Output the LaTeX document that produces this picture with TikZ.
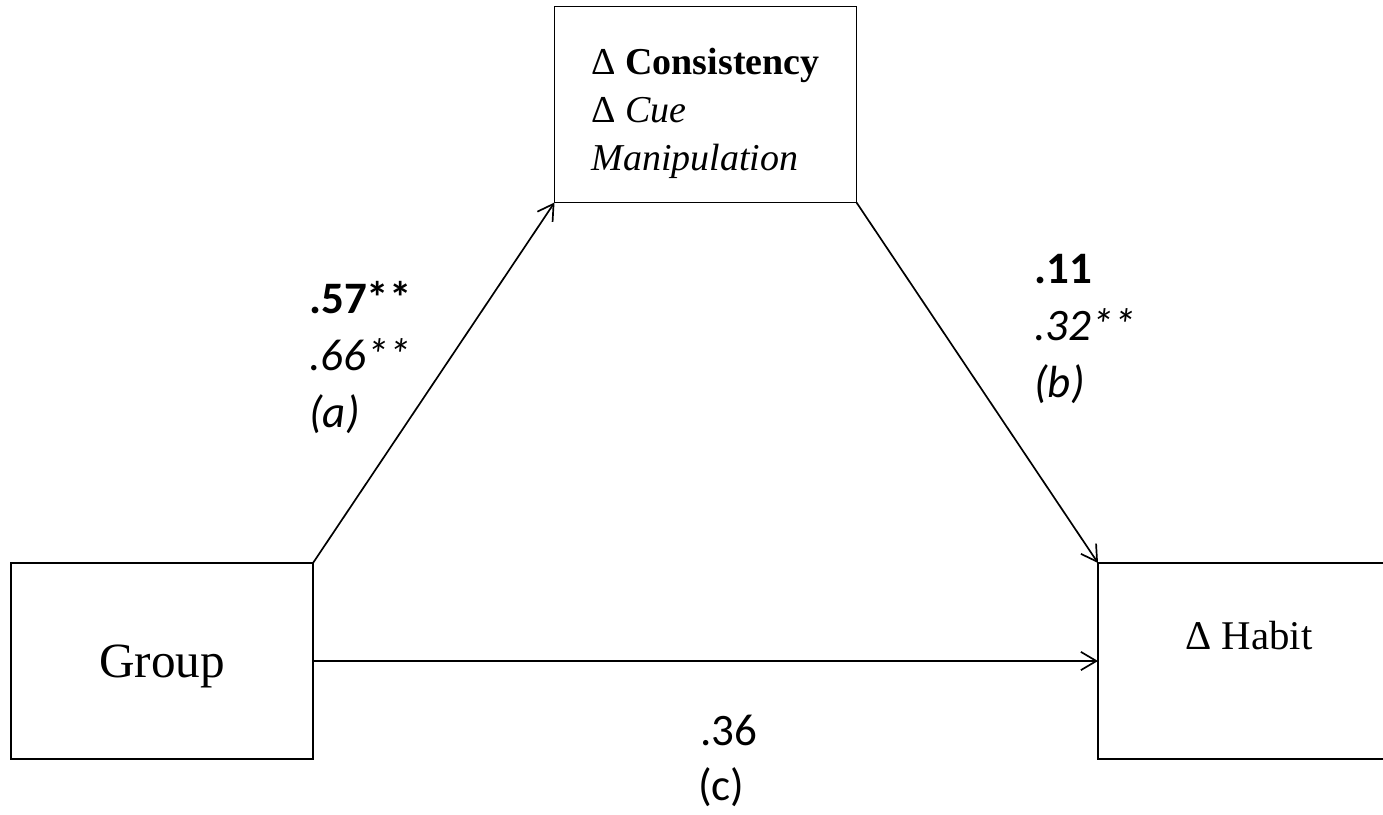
\documentclass[tikz,border=0pt]{standalone}
\usepackage{fontspec}
\setmainfont{Liberation Serif}
\newfontfamily\calib{Carlito}
\usetikzlibrary{arrows.meta}

\begin{document}
\begin{tikzpicture}[x=0.025cm,y=-0.025cm,line join=miter,>={Straight Barb[length=11pt,width=13pt]},
  every node/.style={inner sep=0pt},
  box/.style={draw,line width=1.3pt,minimum width=302*0.025cm,minimum height=196*0.025cm,outer sep=0pt},
  lab/.style={anchor=base west,font=\calib\fontsize{32}{38}\selectfont}]
  \useasboundingbox (0,0) rectangle (1383,815);
  % boxes
  \node[box,font=\fontsize{35}{42}\selectfont,text depth=0pt] (group) at (162,661) {Group};
  \node[box,align=left,font=\fontsize{27}{34}\selectfont,text height=94pt,text depth=0pt] (cons) at (705.5,104.5)
    {Δ \textbf{Consistency}\\ Δ \textit{Cue}\\ \textit{Manipulation}};
  \node[box,font=\fontsize{29}{35}\selectfont,text depth=37pt] (habit) at (1249,661) {Δ Habit};
  % paths
  \draw[->,line width=1.2pt] (group.north east) -- (cons.south west);
  \draw[->,line width=1.2pt] (cons.south east) -- (habit.north west);
  \draw[->,line width=1.2pt] (group.east) -- (habit.west);
  % coefficients
  \node[lab] (a1) at (309,313) {\textbf{.57**}};
  \node[lab] (a2) at (309,370) {\textit{.66**}};
  \node[lab] (a3) at (309,427) {\textit{(a)}};
  \node[lab] (b1) at (1034,283) {\textbf{.11}};
  \node[lab] (b2) at (1034,340) {\textit{.32**}};
  \node[lab] (b3) at (1034,397) {\textit{(b)}};
  \node[lab] (c1) at (700,745) {.36};
  \node[lab] (c2) at (698,800) {(c)};
\end{tikzpicture}
\end{document}
